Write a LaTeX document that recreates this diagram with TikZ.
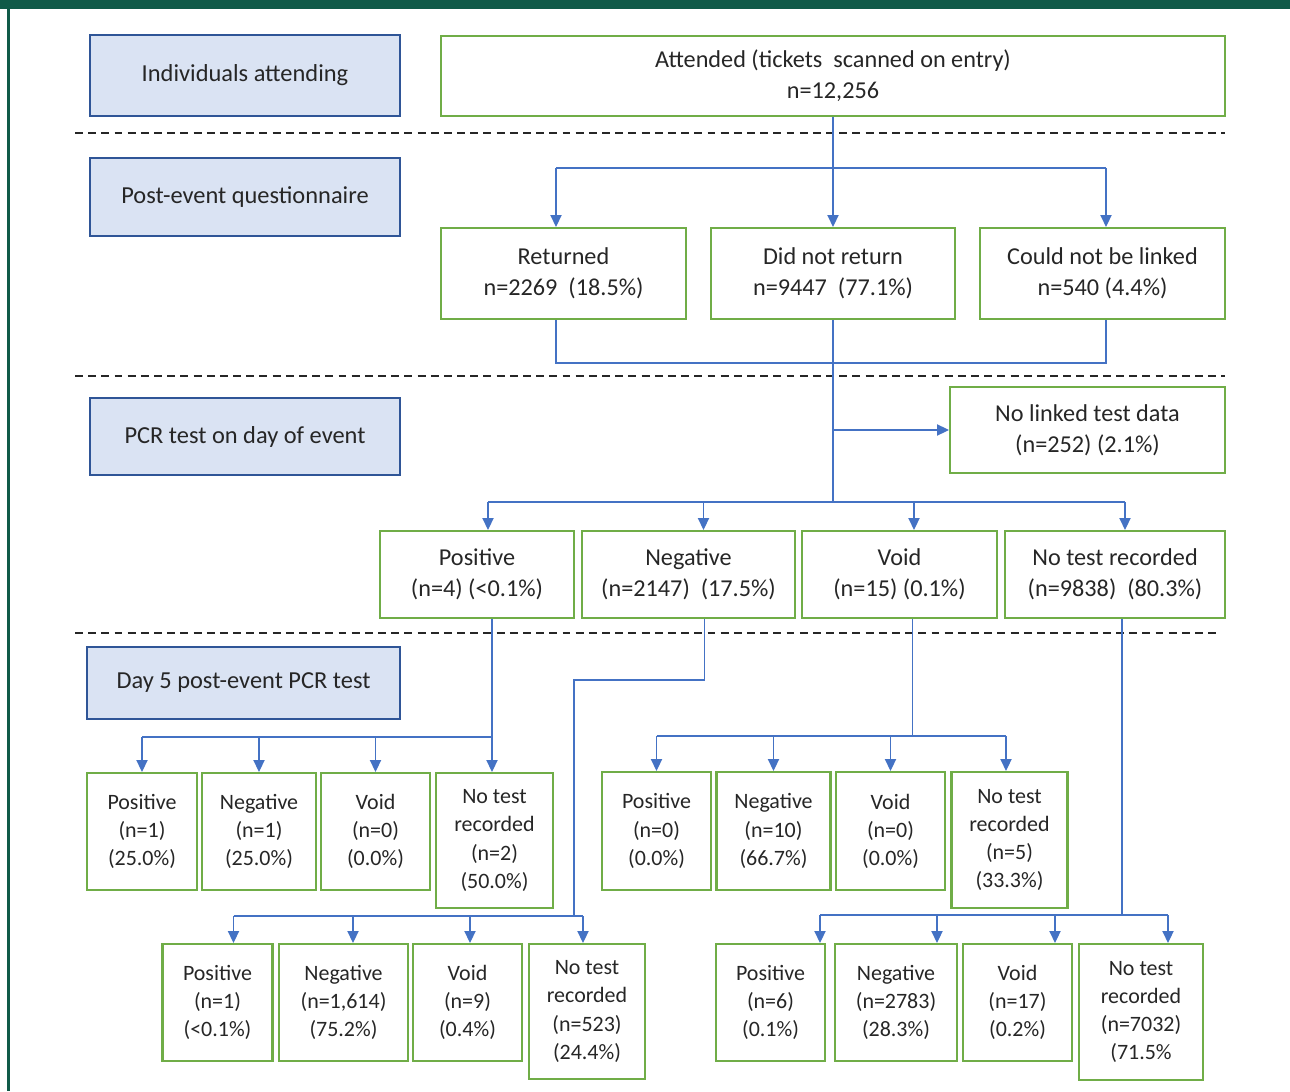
\documentclass[tikz,border=0pt]{standalone}
\usepackage{fontspec}
\setmainfont{Carlito}
\usepackage{xcolor}
\usepackage{tikz}
\usetikzlibrary{shapes,arrows.meta,positioning,calc}

\definecolor{stagefill}{HTML}{DAE3F3}
\definecolor{stageline}{HTML}{2F5597}
\definecolor{tallygreen}{HTML}{70AD47}
\definecolor{flowblue}{HTML}{4472C4}
\definecolor{framegreen}{HTML}{105A48}
\definecolor{ink}{HTML}{262626}

\begin{document}
\begin{tikzpicture}[x=0.02cm,y=-0.02cm,
  stage/.style={draw=stageline,fill=stagefill,line width=1.1pt,text=ink,
    minimum width=6.2cm,font=\fontsize{13.9}{17}\selectfont},
  tally/.style={draw=tallygreen,line width=1.2pt,text=ink,align=center,
    inner sep=2pt,font=\fontsize{13.8}{17.5}\selectfont},
  leaf/.style={tally,font=\fontsize{12.5}{16}\selectfont},
  bus/.style={draw=flowblue,line width=1.1pt},
  feed/.style={draw=flowblue,line width=0.7pt,-{Triangle[length=6.8pt,width=6.4pt]}},
  sep/.style={dash pattern=on 4.5pt off 3pt,line width=0.6pt,black!85}]

\useasboundingbox (0,0) rectangle (1290,1091);
\fill[framegreen] (0,0) rectangle (1290,9);
\fill[framegreen] (7,0) rectangle (9.5,1091);

% stage labels on the left
\node[stage,minimum height=1.62cm] (ind) at (245,75.5) {Individuals attending};
\node[stage,minimum height=1.56cm] (pq) at (245,197) {Post-event questionnaire};
\node[stage,minimum height=1.54cm] (pcr) at (245,436.5) {PCR test on day of event};
\node[stage,minimum width=6.26cm,minimum height=1.44cm] (d5) at (243.5,683) {Day 5 post-event PCR test};

\draw[sep] (75,133) -- (1225,133);
\draw[sep] (75,376) -- (1225,376);
\draw[sep] (75,633) -- (1220,633);

% counts
\node[tally,minimum width=15.68cm,minimum height=1.6cm] (att) at (833,76) {Attended (tickets~ scanned on entry)\\n=12,256};
\node[tally,minimum width=4.9cm,minimum height=1.82cm] (ret) at (563.5,273.5) {Returned\\n=2269~ (18.5\%)};
\node[tally,minimum width=4.88cm,minimum height=1.82cm] (dnr) at (833,273.5) {Did not return\\n=9447~ (77.1\%)};
\node[tally,minimum width=4.9cm,minimum height=1.82cm] (cnl) at (1102.5,273.5) {Could not be linked\\n=540 (4.4\%)};
\node[tally,minimum width=5.5cm,minimum height=1.72cm] (nltd) at (1087.5,430) {No linked test data\\(n=252) (2.1\%)};

\node[tally,minimum width=3.88cm,minimum height=1.74cm] (ppos) at (477,574.5) {Positive\\(n=4) (<0.1\%)};
\node[tally,minimum width=4.26cm,minimum height=1.74cm] (pneg) at (688.5,574.5) {Negative\\(n=2147)~ (17.5\%)};
\node[tally,minimum width=3.9cm,minimum height=1.74cm] (pvoid) at (899.5,574.5) {Void\\(n=15) (0.1\%)};
\node[tally,minimum width=4.4cm,minimum height=1.74cm] (pnone) at (1115,574.5) {No test recorded\\(n=9838)~ (80.3\%)};

% day 5 results
\node[leaf,minimum width=2.2cm,minimum height=2.34cm] (a1) at (142,831.5) {Positive\\(n=1)\\(25.0\%)};
\node[leaf,minimum width=2.28cm,minimum height=2.34cm] (a2) at (259,831.5) {Negative\\(n=1)\\(25.0\%)};
\node[leaf,minimum width=2.18cm,minimum height=2.34cm] (a3) at (375.5,831.5) {Void\\(n=0)\\(0.0\%)};
\node[leaf,minimum width=2.34cm,minimum height=2.7cm] (a4) at (494.5,840.5) {No test\\recorded\\(n=2)\\(50.0\%)};

\node[leaf,minimum width=2.18cm,minimum height=2.36cm] (c1) at (656.5,831) {Positive\\(n=0)\\(0.0\%)};
\node[leaf,minimum width=2.28cm,minimum height=2.36cm] (c2) at (773.5,831) {Negative\\(n=10)\\(66.7\%)};
\node[leaf,minimum width=2.18cm,minimum height=2.36cm] (c3) at (890.5,831) {Void\\(n=0)\\(0.0\%)};
\node[leaf,minimum width=2.32cm,minimum height=2.72cm] (c4) at (1009.5,840) {No test\\recorded\\(n=5)\\(33.3\%)};

\node[leaf,minimum width=2.2cm,minimum height=2.34cm] (b1) at (217.5,1002.5) {Positive\\(n=1)\\(<0.1\%)};
\node[leaf,minimum width=2.58cm,minimum height=2.34cm] (b2) at (343.5,1002.5) {Negative\\(n=1,614)\\(75.2\%)};
\node[leaf,minimum width=2.18cm,minimum height=2.34cm] (b3) at (467.5,1002.5) {Void\\(n=9)\\(0.4\%)};
\node[leaf,minimum width=2.32cm,minimum height=2.7cm] (b4) at (587,1011.5) {No test\\recorded\\(n=523)\\(24.4\%)};

\node[leaf,minimum width=2.18cm,minimum height=2.34cm] (d1) at (770.5,1002.5) {Positive\\(n=6)\\(0.1\%)};
\node[leaf,minimum width=2.44cm,minimum height=2.34cm] (d2) at (896,1002.5) {Negative\\(n=2783)\\(28.3\%)};
\node[leaf,minimum width=2.18cm,minimum height=2.34cm] (d3) at (1017.5,1002.5) {Void\\(n=17)\\(0.2\%)};
\node[leaf,minimum width=2.48cm,minimum height=2.72cm] (d4) at (1141,1012) {No test\\recorded\\(n=7032)\\(71.5\%};

% questionnaire
\coordinate (busQ) at (833,168);
\draw[bus] (att.south) -- (busQ);
\draw[bus] ($(ret.north |- busQ)+(-7.5,0)$) -- ($(cnl.north |- busQ)+(3.5,0)$);
\foreach \n/\dx in {ret/-7.5,dnr/0,cnl/3.5}
  \draw[feed] ($(\n.north |- busQ)+(\dx,0)$) -- ($(\n.north)+(\dx,0)$);
\draw[bus] ($(ret.south)+(-7.5,0)$) -- ++(0,43) -| ($(cnl.south)+(3.5,0)$);

% pcr on the day
\coordinate (busP) at (833,502);
\draw[bus] (dnr.south) -- (busP);
\draw[feed] (dnr.south |- nltd.west) -- (nltd.west);
\draw[bus] ($(ppos.north |- busP)+(11,0)$) -- ($(pnone.north |- busP)+(10,0)$);
\foreach \n/\dx in {ppos/11,pneg/15,pvoid/14.5,pnone/10}
  \draw[feed] ($(\n.north |- busP)+(\dx,0)$) -- ($(\n.north)+(\dx,0)$);

% day 5
\coordinate (busA) at (492,737);
\draw[bus] ($(ppos.south)+(15,0)$) -- (busA) -- (busA -| a1.north);
\foreach \n in {a1,a2,a3}
  \draw[feed] (busA -| \n.north) -- (\n.north);
\draw[feed] (busA) -- (busA |- a4.north);

\coordinate (busB) at (574,916);
\draw[bus] ($(pneg.south)+(16,0)$) -- ++(0,61) -| (busB);
\draw[bus] ($(b1.north |- busB)+(16,0)$) -- ($(b4.north |- busB)+(-4,0)$);
\foreach \n/\dx in {b1/16,b2/9.5,b3/2.5,b4/-4}
  \draw[feed] ($(\n.north |- busB)+(\dx,0)$) -- ($(\n.north)+(\dx,0)$);

\coordinate (busC) at (912.5,736);
\draw[bus] ($(pvoid.south)+(13,0)$) -- (busC);
\draw[bus] (busC -| c1.north) -- ($(c4.north |- busC)+(-3.5,0)$);
\foreach \n/\dx in {c1/0,c2/0,c3/0,c4/-3.5}
  \draw[feed] ($(\n.north |- busC)+(\dx,0)$) -- ($(\n.north)+(\dx,0)$);

\coordinate (busD) at (1122,915);
\draw[bus] ($(pnone.south)+(7,0)$) -- (busD);
\draw[bus] ($(d1.north |- busD)+(49.5,0)$) -- ($(d4.north |- busD)+(27,0)$);
\foreach \n/\dx in {d1/49.5,d2/41,d3/37.5,d4/27}
  \draw[feed] ($(\n.north |- busD)+(\dx,0)$) -- ($(\n.north)+(\dx,0)$);
\end{tikzpicture}
\end{document}
